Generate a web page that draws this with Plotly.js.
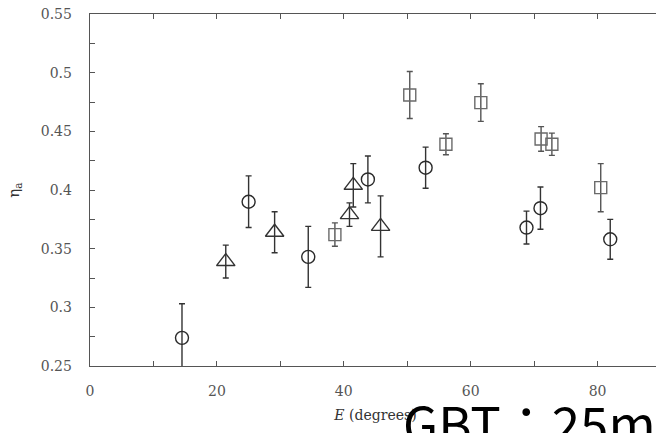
<!DOCTYPE html>
<html>
<head>
<meta charset="utf-8">
<script src="https://cdn.plot.ly/plotly-3.0.1.min.js"></script>
<style>
html,body{margin:0;padding:0;overflow:hidden;background:#fff;}
#chart{width:670px;height:433px;}
</style>
</head>
<body>
<div id="chart"></div>
<script>
// Elevation (degrees) and aperture efficiency for each marker group
const circleE   = [14.5, 25.0, 34.4, 43.8, 52.9, 68.8, 71.0, 82.0];
const circleEta = [0.274, 0.390, 0.343, 0.409, 0.419, 0.368, 0.3845, 0.358];
const circleErr = [0.029, 0.022, 0.026, 0.020, 0.0175, 0.014, 0.018, 0.017];

const triE   = [21.4, 29.1, 40.9, 41.5, 45.8];
const triEta = [0.339, 0.364, 0.379, 0.404, 0.369];
const triErr = [0.014, 0.0175, 0.010, 0.0185, 0.026];

const sqE   = [38.6, 50.4, 56.1, 61.6, 71.1, 72.8, 80.5];
const sqEta = [0.362, 0.481, 0.439, 0.4745, 0.4435, 0.439, 0.402];
const sqErr = [0.010, 0.020, 0.009, 0.016, 0.0105, 0.0095, 0.0205];

const xTicks = [0, 20, 40, 60, 80];
const yTicks = [0.25, 0.3, 0.35, 0.4, 0.45, 0.5, 0.55];
const yTickText = ['0.25', '0.3', '0.35', '0.4', '0.45', '0.5', '0.55'];

const overlayText = 'GBT：25m';

function errBar(arr, color) {
  return {type: 'data', array: arr, visible: true, color: color, thickness: 1.4, width: 3};
}

const traces = [
  {
    x: sqE, y: sqEta, type: 'scatter', mode: 'markers', cliponaxis: true,
    marker: {symbol: 'square-open', size: 12, color: '#6a6a6a', line: {width: 1.4, color: '#6a6a6a'}},
    error_y: errBar(sqErr, '#555')
  },
  {
    x: triE, y: triEta, type: 'scatter', mode: 'markers', cliponaxis: true,
    marker: {symbol: 'triangle-up-open', size: 16, color: '#333', line: {width: 1.4, color: '#333'}},
    error_y: errBar(triErr, '#333')
  },
  {
    x: circleE, y: circleEta, type: 'scatter', mode: 'markers', cliponaxis: true,
    marker: {symbol: 'circle-open', size: 13, color: '#2a2a2a', line: {width: 1.4, color: '#2a2a2a'}},
    error_y: errBar(circleErr, '#333')
  }
];

const axisCommon = {
  showgrid: false, zeroline: false, showline: true, linecolor: '#555', linewidth: 1.3,
  mirror: 'ticks', ticks: 'inside', ticklen: 5, tickwidth: 1, tickcolor: '#555',
  tickfont: {family: 'DejaVu Serif', size: 14, color: '#555'}
};

const layout = {
  width: 670, height: 433,
  margin: {l: 90, r: 9, t: 14, b: 67},
  paper_bgcolor: '#fff', plot_bgcolor: '#fff',
  showlegend: false,
  xaxis: Object.assign({}, axisCommon, {
    range: [0, 90], tickmode: 'array', tickvals: xTicks, ticktext: xTicks.map(String),
    minor: {dtick: 10, ticks: 'inside', ticklen: 5, tickcolor: '#555'},
    ticklabelstandoff: 12,
    title: {text: '<i>E</i> (degrees)', font: {family: 'DejaVu Serif', size: 14, color: '#333'}, standoff: 12}
  }),
  yaxis: Object.assign({}, axisCommon, {
    range: [0.25, 0.55], tickmode: 'array', tickvals: yTicks, ticktext: yTickText,
    minor: {dtick: 0.025, ticks: 'inside', ticklen: 5, tickcolor: '#555'},
    ticklabelstandoff: 14,
    title: {text: 'η<sub>a</sub>', font: {family: 'DejaVu Serif', size: 15, color: '#333'}, standoff: 17}
  }),
  annotations: [{
    text: overlayText, xref: 'paper', yref: 'paper', x: 0.545, y: -0.047,
    xanchor: 'left', yanchor: 'top', showarrow: false,
    font: {family: 'Noto Sans CJK JP', size: 51, color: '#000'}
  }]
};

Plotly.newPlot('chart', traces, layout, {displayModeBar: false, staticPlot: true});
</script>
</body>
</html>
